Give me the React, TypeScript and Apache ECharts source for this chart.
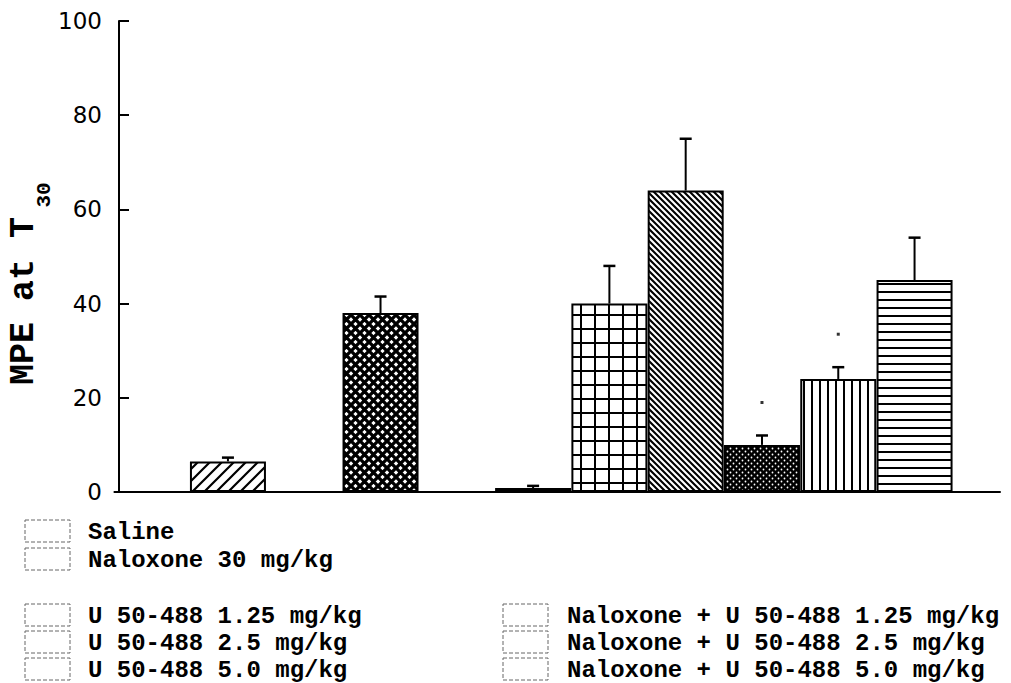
import React, { useEffect, useRef } from "react";
import * as echarts from "echarts";

// ---- data ----
const barSlots = [0, 1, 3, 5, 6, 7, 8, 9, 10];
const barValues = [0, 6.5, 38, 0.85, 40, 64, 10, 24, 45];
const errorTops: (number | null)[] = [null, 7.3, 41.5, 1.3, 48, 75, 12, 26.5, 54];
const barPatterns = ["blank", "slash", "diamond", "blank", "grid", "backslash", "dots", "vertical", "horizontal"];
const sigSlots = [8, 9];
const sigValues = [19, 33.5];
const yMin = 0;
const yMax = 100;
const yInterval = 20;
const legendLeftA = ["Saline", "Naloxone 30 mg/kg"];
const legendLeftB = ["U 50-488 1.25 mg/kg", "U 50-488 2.5 mg/kg", "U 50-488 5.0 mg/kg"];
const legendRight = [
  "Naloxone + U 50-488 1.25 mg/kg",
  "Naloxone + U 50-488 2.5 mg/kg",
  "Naloxone + U 50-488 5.0 mg/kg",
];

function svgPattern(w: number, h: number, body: string, bg = "#ffffff") {
  const svg = `<svg xmlns="http://www.w3.org/2000/svg" width="${w}" height="${h}"><rect width="${w}" height="${h}" fill="${bg}"/>${body}</svg>`;
  return {
    image: "data:image/svg+xml;charset=utf-8," + encodeURIComponent(svg),
    repeat: "repeat",
    imageWidth: w,
    imageHeight: h,
  } as any;
}

const patterns: Record<string, any> = {
  blank: "#ffffff",
  slash: svgPattern(12, 12, `<path d="M-3,3L3,-3M-2,14L14,-2M9,15L15,9" stroke="#000" stroke-width="2.2" fill="none"/>`),
  diamond: svgPattern(9, 9, `<path d="M-2,-2L11,11M-2,11L11,-2" stroke="#000" stroke-width="3.3" fill="none"/>`),
  grid: svgPattern(14, 14, `<path d="M7,0V14M0,7H14" stroke="#000" stroke-width="2" fill="none"/>`),
  backslash: svgPattern(6, 6, `<path d="M-1,-1L7,7M-1,5L1,7M5,-1L7,1" stroke="#000" stroke-width="2.1" fill="none"/>`),
  dots: svgPattern(
    6,
    6,
    `<circle cx="1.5" cy="1.5" r="0.9" fill="#fff"/><circle cx="4.5" cy="4.5" r="0.9" fill="#fff"/>`,
    "#000000"
  ),
  vertical: svgPattern(8, 4, `<path d="M4,0V4" stroke="#000" stroke-width="2" fill="none"/>`),
  horizontal: svgPattern(4, 8, `<path d="M0,4H4" stroke="#000" stroke-width="2" fill="none"/>`),
};

export default function App() {
  const ref = useRef<HTMLDivElement>(null);
  useEffect(() => {
    if (!ref.current) return;
    const chart = echarts.init(ref.current, undefined, { renderer: "svg" });

    const barData = barSlots.map((s, i) => ({
      value: [s + 0.5, barValues[i]],
      itemStyle: { color: patterns[barPatterns[i]] },
    }));
    const errData = barSlots
      .map((s, i) => (errorTops[i] == null ? null : [s + 0.5, barValues[i], errorTops[i] as number]))
      .filter((d) => d !== null) as number[][];
    const sigData = sigSlots.map((s, i) => [s + 0.5, sigValues[i]]);

    const textStyle = (text: string, size: number, family: string, weight: string) => ({
      text,
      fill: "#000",
      fontSize: size,
      fontFamily: family,
      fontWeight: weight,
      align: "left",
      textAlign: "left",
      verticalAlign: "middle",
      textVerticalAlign: "middle",
    });

    const legendFont = "Liberation Mono";
    const graphics: any[] = [];
    const swatch = (x: number, y: number) => ({
      type: "rect",
      shape: { x, y, width: 45, height: 22 },
      style: { fill: "#fff", stroke: "#666", lineWidth: 1, lineDash: [4, 2] },
    });
    const leftY = [532, 560];
    legendLeftA.forEach((t, i) => {
      graphics.push(swatch(25, leftY[i] - 12));
      graphics.push({ type: "text", x: 88, y: leftY[i], style: textStyle(t, 24, legendFont, "bold") });
    });
    const leftYB = [616, 643, 670];
    legendLeftB.forEach((t, i) => {
      graphics.push(swatch(25, leftYB[i] - 12));
      graphics.push({ type: "text", x: 88, y: leftYB[i], style: textStyle(t, 24, legendFont, "bold") });
    });
    legendRight.forEach((t, i) => {
      graphics.push(swatch(503, leftYB[i] - 12));
      graphics.push({ type: "text", x: 567, y: leftYB[i], style: textStyle(t, 24, legendFont, "bold") });
    });
    // y axis title with subscript
    graphics.push({
      type: "text",
      x: 24,
      y: 301,
      rotation: Math.PI / 2,
      style: { ...textStyle("MPE at T", 35, "Liberation Mono", "bold"), align: "center", textAlign: "center" },
    });
    graphics.push({
      type: "text",
      x: 44,
      y: 195,
      rotation: Math.PI / 2,
      style: { ...textStyle("30", 21, "Liberation Mono", "bold"), align: "center", textAlign: "center" },
    });

    chart.setOption({
      animation: false,
      backgroundColor: "#ffffff",
      grid: { left: 119, right: 11, top: 21, bottom: 191, containLabel: false, outerBoundsMode: "none" } as any,
      xAxis: {
        type: "value",
        min: 0.072,
        max: 11.62,
        axisLine: { show: true, onZero: false, lineStyle: { color: "#000", width: 2 } },
        axisTick: { show: false },
        axisLabel: { show: false },
        splitLine: { show: false },
      },
      yAxis: {
        type: "value",
        min: yMin,
        max: yMax,
        interval: yInterval,
        axisLine: { show: true, onZero: false, lineStyle: { color: "#000", width: 2 } },
        axisTick: { show: true, inside: true, length: 10, lineStyle: { color: "#000", width: 2 } },
        axisLabel: { color: "#000", fontSize: 23, fontFamily: "DejaVu Sans", margin: 17 },
        splitLine: { show: false },
      },
      graphic: graphics,
      series: [
        {
          type: "bar",
          data: barData,
          barWidth: 76,
          clip: true,
          emphasis: { disabled: true },
          itemStyle: { borderColor: "#000", borderWidth: 2 },
          z: 2,
        },
        {
          type: "custom",
          data: errData,
          z: 3,
          renderItem: (params: any, api: any) => {
            const x = api.value(0);
            const p0 = api.coord([x, api.value(1)]);
            const p1 = api.coord([x, api.value(2)]);
            return {
              type: "group",
              children: [
                { type: "line", shape: { x1: p0[0], y1: p0[1], x2: p1[0], y2: p1[1] }, style: { stroke: "#000", lineWidth: 2 } },
                { type: "line", shape: { x1: p1[0] - 6, y1: p1[1], x2: p1[0] + 6, y2: p1[1] }, style: { stroke: "#000", lineWidth: 2.5 } },
              ],
            };
          },
        },
        {
          type: "scatter",
          data: sigData,
          symbol: "rect",
          symbolSize: 3,
          itemStyle: { color: "#000" },
          emphasis: { disabled: true },
          z: 3,
        },
      ],
    });
    return () => chart.dispose();
  }, []);
  return (
    <div
      ref={ref}
      style={{ position: "fixed", left: 0, top: 0, width: 1011, height: 683, background: "#fff" }}
    />
  );
}
